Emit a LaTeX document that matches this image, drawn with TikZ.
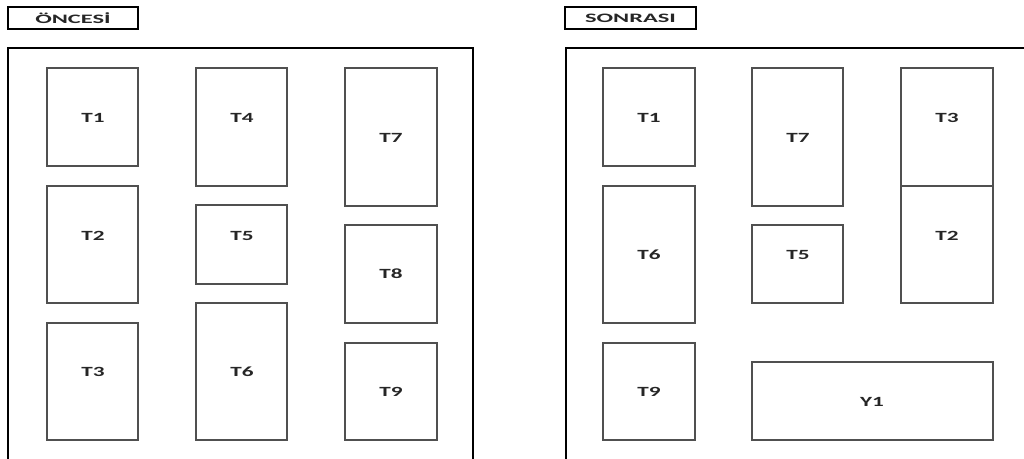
\documentclass[tikz,border=0pt]{standalone}
\usepackage{fontspec}
\setmainfont{Carlito}[FakeStretch=1.65]
\newfontfamily\basfont{Carlito}[FakeStretch=1.9]
\usepackage{tikz}
\definecolor{GrisKutu}{RGB}{80,80,80}
\tikzset{
  cerceve/.style={line width=2.4pt,black},
  baslik/.style={line width=1.7pt,black},
  kutu/.style={line width=1.3pt,GrisKutu},
  etiket/.style={font=\fontsize{12}{14}\selectfont\bfseries,text=black!85},
  basyazi/.style={font=\basfont\fontsize{11}{13}\selectfont\bfseries,text=black!85},
}

\begin{document}
\begin{tikzpicture}[x=0.03cm,y=-0.03cm]
  \useasboundingbox (0,0) rectangle (1024,459);

  % basliklar
  \draw[baslik] (8,7) rectangle (138,29) node[midway,basyazi] (once) {ÖNCESİ};
  \draw[baslik] (565,7) rectangle (696,29) node[midway,basyazi] (sonra) {SONRASI};

  % dis cerceveler
  \draw[cerceve] (8,470) -- (8,48) -- (473,48) -- (473,470);
  \draw[cerceve] (566,470) -- (566,48) -- (1040,48);

  % oncesi
  \draw[kutu] (47,68) rectangle (138,166);
  \node[etiket] (a1) at (93,118) {T1};
  \draw[kutu] (47,186) rectangle (138,303);
  \node[etiket] (a2) at (93,236) {T2};
  \draw[kutu] (47,323) rectangle (138,440);
  \node[etiket] (a3) at (93,372) {T3};
  \draw[kutu] (196,68) rectangle (287,186);
  \node[etiket] (a4) at (242,118) {T4};
  \draw[kutu] (196,205) rectangle (287,284);
  \node[etiket] (a5) at (242,236) {T5};
  \draw[kutu] (196,303) rectangle (287,440);
  \node[etiket] (a6) at (242,372) {T6};
  \draw[kutu] (345,68) rectangle (437,206);
  \node[etiket] (a7) at (391,138) {T7};
  \draw[kutu] (345,225) rectangle (437,323);
  \node[etiket] (a8) at (391,274) {T8};
  \draw[kutu] (345,343) rectangle (437,440);
  \node[etiket] (a9) at (391,392) {T9};

  % sonrasi
  \draw[kutu] (603,68) rectangle (695,166);
  \node[etiket] (b1) at (649,118) {T1};
  \draw[kutu] (603,186) rectangle (695,323);
  \node[etiket] (b6) at (649,255) {T6};
  \draw[kutu] (603,343) rectangle (695,440);
  \node[etiket] (b9) at (649,392) {T9};
  \draw[kutu] (752,68) rectangle (843,206);
  \node[etiket] (b7) at (798,138) {T7};
  \draw[kutu] (752,225) rectangle (843,303);
  \node[etiket] (b5) at (798,255) {T5};
  \draw[kutu] (901,68) rectangle (993,186);
  \node[etiket] (b3) at (947,118) {T3};
  \draw[kutu] (901,186) rectangle (993,303);
  \node[etiket] (b2) at (947,236) {T2};
  \draw[kutu] (752,362) rectangle (993,440);
  \node[etiket] (y1) at (872,402) {Y1};
\end{tikzpicture}
\end{document}
